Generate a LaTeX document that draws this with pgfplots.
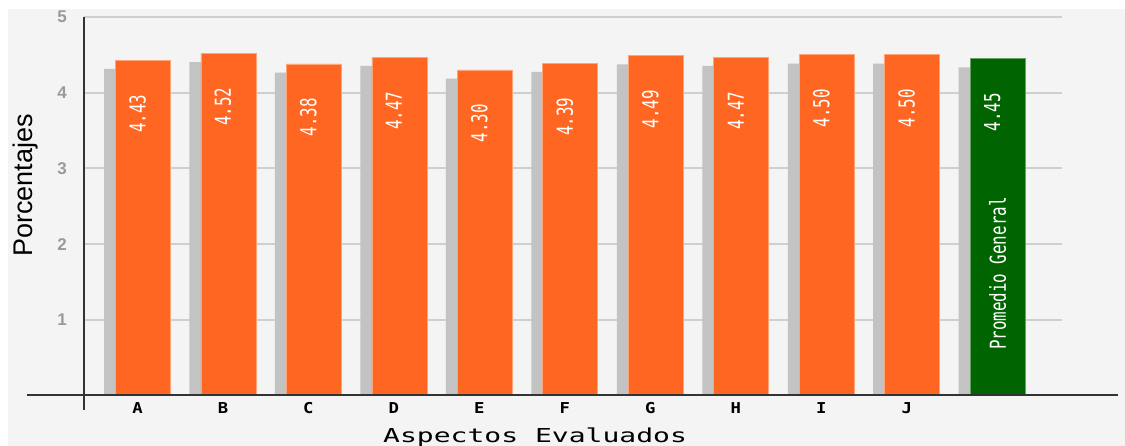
\documentclass[border=0pt]{standalone}
\usepackage{pgfplots}
\pgfplotsset{compat=1.18}
\usepackage{fontspec}
\setmainfont{Liberation Sans}
\newfontfamily\valfont[FakeStretch=0.72]{DejaVu Sans Mono}
\newfontfamily\tickfont[FakeStretch=1.15]{DejaVu Sans Mono}
\newfontfamily\labfont[FakeStretch=1.46]{DejaVu Sans Mono}
\definecolor{bg}{HTML}{F4F4F4}
\definecolor{barorange}{HTML}{FF6622}
\definecolor{bargreen}{HTML}{006400}
\definecolor{shadow}{HTML}{C3C3C3}
\definecolor{gridc}{HTML}{CFCFCF}
\definecolor{tickgray}{HTML}{9A9A9A}
\definecolor{axisc}{HTML}{333333}

\begin{document}
\begin{tikzpicture}
\begin{axis}[
  set layers,
  x=85.47pt, y=75.7pt,
  xmin=-0.626, xmax=10.817, ymin=0, ymax=5,
  clip=false,
  axis line style={draw=none},
  major tick length=0pt,
  xtick={0,...,9},
  xticklabels={A,B,C,D,E,F,G,H,I,J},
  ytick={1,...,5},
  /pgf/number format/assume math mode=true,
  ymajorgrids,
  grid style={gridc, line width=2pt},
  xticklabel style={anchor=north, inner sep=0pt, yshift=-7pt,
    font=\tickfont\bfseries\fontsize{15}{15}\selectfont},
  yticklabel style={anchor=east, inner sep=0pt, xshift=-17pt, text=tickgray,
    font=\bfseries\fontsize{17}{17}\selectfont},
]
\begin{pgfonlayer}{axis background}
  \fill[bg] (axis cs:-1.5151,-0.6671) rectangle (axis cs:11.554,5.1057);
\end{pgfonlayer}

% sombra gris
\addplot[ybar, bar width=56pt, bar shift=-5.5pt, fill=shadow, draw=none]
  coordinates {(0,4.315)(1,4.405)(2,4.265)(3,4.355)(4,4.185)(5,4.275)
               (6,4.375)(7,4.355)(8,4.385)(9,4.385)(10,4.335)};

% aspectos
\addplot[ybar, bar width=55pt, bar shift=5.5pt, fill=barorange,
  draw=barorange!60!white, line width=0.8pt,
  point meta=explicit symbolic, nodes near coords,
  every node near coord/.append style={yshift=-34pt, rotate=90, anchor=east,
    inner sep=0pt, text=white, font=\valfont\fontsize{22}{22}\selectfont}]
  coordinates {(0,4.43)[4.43] (1,4.52)[4.52] (2,4.38)[4.38] (3,4.47)[4.47]
               (4,4.30)[4.30] (5,4.39)[4.39] (6,4.49)[4.49] (7,4.47)[4.47]
               (8,4.50)[4.50] (9,4.50)[4.50]};

% promedio general
\addplot[ybar, bar width=55pt, bar shift=5.5pt, fill=bargreen,
  draw=bargreen!60!white, line width=0.8pt,
  point meta=explicit symbolic, nodes near coords,
  every node near coord/.append style={yshift=-34pt, rotate=90, anchor=east,
    inner sep=0pt, text=white, font=\valfont\fontsize{22}{22}\selectfont}]
  coordinates {(10,4.45)[4.45]};

\node[rotate=90, inner sep=0pt, text=white, font=\valfont\fontsize{22}{22}\selectfont]
  at (axis cs:10.064,1.61) {Promedio General};

% ejes
\draw[axisc, line width=2pt] (axis cs:-1.293,0) -- (axis cs:11.47,0);
\draw[axisc, line width=2pt] (axis cs:-0.626,5) -- (axis cs:-0.626,-0.19);

\node[rotate=90, anchor=base, font=\fontsize{27}{27}\selectfont]
  at (axis cs:-1.2227,2.774) {Porcentajes};
\node[anchor=base, font=\labfont\fontsize{19.2}{19.2}\selectfont]
  at (axis cs:4.651,-0.627) {Aspectos Evaluados};

\coordinate (bl) at (axis cs:-1.6088,-0.6671);
\coordinate (tr) at (axis cs:11.554,5.2246);
\end{axis}
\pgfresetboundingbox
\useasboundingbox (bl) rectangle (tr);
\end{tikzpicture}
\end{document}
